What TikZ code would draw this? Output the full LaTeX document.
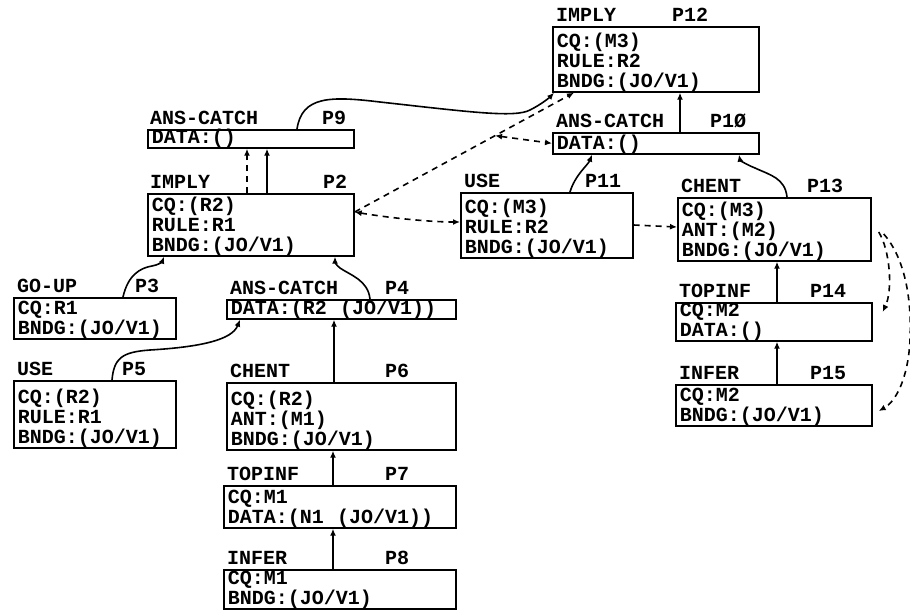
\documentclass[tikz,border=0pt]{standalone}
\usepackage{fontspec}
\setmainfont{Liberation Mono}
\usetikzlibrary{arrows.meta}
\begin{document}
\begin{tikzpicture}[x=1pt,y=-1pt,
  txt/.style={font=\fontsize{20}{20}\selectfont\bfseries},
  box/.style={txt,draw,line width=1.7pt,anchor=north west,inner xsep=4pt,inner ysep=0pt,align=left},
  three/.style={text depth=44pt},
  two/.style={text depth=24pt},
  one/.style={text depth=4pt},
  hdr/.style={txt,anchor=base west,inner sep=0pt},
  conn/.style={line width=1.6pt,-{Latex[length=7pt,width=6pt]}},
  dconn/.style={conn,dash pattern=on 6pt off 5pt},
  dconnb/.style={line width=1.6pt,dash pattern=on 6pt off 5pt,{Latex[length=7pt,width=6pt]}-{Latex[length=7pt,width=6pt]}}]
\useasboundingbox (0,0) rectangle (910,611);
\fill[white] (0,0) rectangle (910,611);

% boxes
\node[box,three,text height=21pt,minimum width=206pt,minimum height=65pt,text width=198pt] (p12) at (552,26) {CQ:(M3)\\RULE:R2\\BNDG:(JO/V1)};
\node[box,one,text height=17pt,minimum width=206pt,minimum height=21pt,text width=198pt] (p10) at (552,132) {DATA:()};
\node[box,one,text height=14pt,minimum width=206pt,minimum height=18pt,text width=198pt] (p9) at (147,129) {DATA:()};
\node[box,three,text height=18pt,minimum width=206pt,minimum height=62pt,text width=198pt] (p2) at (147,193) {CQ:(R2)\\RULE:R1\\BNDG:(JO/V1)};
\node[box,three,text height=21pt,minimum width=172pt,minimum height=65pt,text width=164pt] (p11) at (460,192) {CQ:(M3)\\RULE:R2\\BNDG:(JO/V1)};
\node[box,three,text height=19pt,minimum width=193pt,minimum height=63pt,text width=185pt] (p13) at (677,197) {CQ:(M3)\\ANT:(M2)\\BNDG:(JO/V1)};
\node[box,two,text height=14pt,minimum width=196pt,minimum height=38pt,text width=188pt] (p14) at (675,302) {CQ:M2\\DATA:()};
\node[box,two,text height=17pt,minimum width=196pt,minimum height=41pt,text width=188pt] (p15) at (675,384) {CQ:M2\\BNDG:(JO/V1)};
\node[box,two,text height=17pt,minimum width=162pt,minimum height=41pt,text width=154pt] (p3) at (13,297) {CQ:R1\\BNDG:(JO/V1)};
\node[box,three,text height=23pt,minimum width=162pt,minimum height=67pt,text width=154pt] (p5) at (13,380) {CQ:(R2)\\RULE:R1\\BNDG:(JO/V1)};
\node[box,one,text height=15pt,minimum width=229pt,minimum height=19pt,text width=221pt] (p4) at (226,299) {DATA:(R2\ \ (JO/V1))};
\node[box,three,text height=23pt,minimum width=229pt,minimum height=67pt,text width=221pt] (p6) at (226,382) {CQ:(R2)\\ANT:(M1)\\BNDG:(JO/V1)};
\node[box,two,text height=18pt,minimum width=232pt,minimum height=42pt,text width=224pt] (p7) at (223,485) {CQ:M1\\DATA:(N1\ \ (JO/V1))};
\node[box,two,text height=15pt,minimum width=232pt,minimum height=39pt,text width=224pt] (p8) at (223,569) {CQ:M1\\BNDG:(JO/V1)};

% headers
\node[hdr] (h12) at (556,21) {IMPLY};      \node[hdr] (l12) at (672,21) {P12};
\node[hdr] (h10) at (556,127) {ANS-CATCH}; \node[hdr] (l10) at (710,127) {P1Ø};
\node[hdr] (h9) at (150,124) {ANS-CATCH};  \node[hdr] (l9) at (322,124) {P9};
\node[hdr] (h2) at (150,188) {IMPLY};      \node[hdr] (l2) at (323,188) {P2};
\node[hdr] (h11) at (464,187) {USE};       \node[hdr] (l11) at (585,187) {P11};
\node[hdr] (h13) at (681,192) {CHENT};     \node[hdr] (l13) at (807,192) {P13};
\node[hdr] (h14) at (679,297) {TOPINF};    \node[hdr] (l14) at (810,297) {P14};
\node[hdr] (h15) at (679,379) {INFER};     \node[hdr] (l15) at (810,379) {P15};
\node[hdr] (h3) at (17,292) {GO-UP};       \node[hdr] (l3) at (135,292) {P3};
\node[hdr] (h5) at (17,375) {USE};         \node[hdr] (l5) at (122,375) {P5};
\node[hdr] (h4) at (230,294) {ANS-CATCH};  \node[hdr] (l4) at (385,294) {P4};
\node[hdr] (h6) at (230,377) {CHENT};      \node[hdr] (l6) at (385,377) {P6};
\node[hdr] (h7) at (227,480) {TOPINF};     \node[hdr] (l7) at (385,480) {P7};
\node[hdr] (h8) at (227,564) {INFER};      \node[hdr] (l8) at (385,564) {P8};

% solid connectors
\draw[conn] ([xshift=128pt]p10.north west) -- ([xshift=128pt]p12.south west);
\draw[conn] ([xshift=150pt]p9.north west) .. controls (302,96) and (330,96) .. (380,102)
   .. controls (470,112) and (515,118) .. (530,110) .. controls (542,104) and (550,97) .. ([xshift=2pt]p12.south west);
\draw[conn] ([xshift=110pt]p11.north west) .. controls (575,175) and (588,165) .. ([xshift=40pt]p10.south west);
\draw[conn] ([xshift=110pt]p13.north west) .. controls (785,178) and (770,175) .. (755,168)
   .. controls (745,164) and (740,160) .. ([xshift=187pt]p10.south west);
\draw[conn] ([xshift=102pt]p14.north west) -- ([xshift=100pt]p13.south west);
\draw[conn] ([xshift=102pt]p15.north west) -- ([xshift=102pt]p14.south west);
\draw[conn] ([xshift=120pt]p2.north west) -- ([xshift=120pt]p9.south west);
\draw[conn] ([xshift=110pt]p3.north west) .. controls (128,275) and (140,268) .. (152,266)
   .. controls (158,265) and (162,262) .. ([xshift=17pt]p2.south west);
\draw[conn] ([xshift=99pt]p5.north west) .. controls (114,358) and (122,352) .. (150,350)
   .. controls (200,347) and (232,340) .. ([xshift=14pt]p4.south west);
\draw[conn] ([xshift=144pt]p4.north west) .. controls (368,280) and (350,275) .. (340,268)
   .. controls (336,265) and (335,262) .. ([xshift=188pt]p2.south west);
\draw[conn] ([xshift=108pt]p6.north west) -- ([xshift=108pt]p4.south west);
\draw[conn] ([xshift=110pt]p7.north west) -- ([xshift=107pt]p6.south west);
\draw[conn] ([xshift=110pt]p8.north west) -- ([xshift=110pt]p7.south west);

% dashed connectors
\draw[dconn] ([xshift=100pt]p2.north west) -- ([xshift=100pt]p9.south west);
\draw[dconn] ([yshift=-19pt]p2.north east) -- coordinate[pos=0.64] (j) ([xshift=22pt]p12.south west);
\draw[dconnb] ([yshift=-19pt]p2.north east) .. controls (390,218) and (430,222) .. ([yshift=-30pt]p11.north west);
\draw[dconnb] (j) -- (p10.west);
\draw[dconn] ([yshift=-33pt]p11.north east) -- ([yshift=-30pt]p13.north west);
\draw[dconn] ([xshift=7pt,yshift=-35pt]p13.north east) .. controls (890,250) and (893,290) .. ([xshift=10pt,yshift=-10pt]p14.north east);
\draw[dconn] ([xshift=12pt,yshift=-37pt]p13.north east) .. controls (905,258) and (912,300) .. (910,340)
   .. controls (908,380) and (895,402) .. ([xshift=6pt,yshift=-27pt]p15.north east);
\end{tikzpicture}
\end{document}
